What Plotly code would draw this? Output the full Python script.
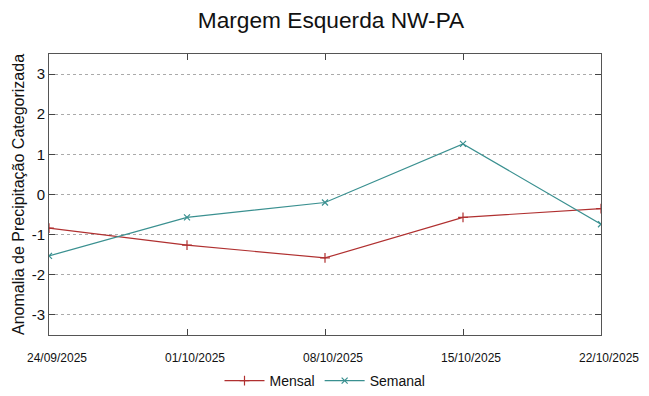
import plotly.graph_objects as go

dates = ["2025-09-24", "2025-10-01", "2025-10-08", "2025-10-15", "2025-10-22"]
tick_labels = ["24/09/2025", "01/10/2025", "08/10/2025", "15/10/2025", "22/10/2025"]
mensal = [-0.84, -1.26, -1.58, -0.57, -0.35]
semanal = [-1.53, -0.57, -0.20, 1.26, -0.74]
y_ticks = [-3, -2, -1, 0, 1, 2, 3]
y_tick_labels = ["-3", "-2", "-1", "0", "1", "2", "3"]

# the page body has an 8px default margin, so the figure is sized to compensate
W, H = 641, 388

fig = go.Figure()
fig.add_trace(go.Scatter(
    x=dates, y=mensal, name="Mensal", mode="lines+markers",
    line=dict(color="#b03030", width=1.2),
    marker=dict(symbol="cross-thin-open", size=7, line=dict(color="#b03030", width=1.2)),
))
fig.add_trace(go.Scatter(
    x=dates, y=semanal, name="Semanal", mode="lines+markers",
    line=dict(color="#3a9090", width=1.2),
    marker=dict(symbol="x-thin-open", size=6, line=dict(color="#3a9090", width=1.2)),
))

fig.update_layout(
    width=W, height=H,
    paper_bgcolor="white", plot_bgcolor="white",
    margin=dict(l=41, r=48, t=46, b=61, autoexpand=False),
    font=dict(family="Liberation Sans, Arial, sans-serif", color="#222"),
    title=dict(text="Margem Esquerda NW-PA", x=(325 - 8 + 6) / W, xanchor="center",
               y=1 - 12 / H, yanchor="middle", yref="container", xref="container",
               font=dict(size=22.7, color="#111")),
    showlegend=True,
    legend=dict(orientation="h", x=(325 - 8 - 41) / (W - 41 - 48), xanchor="center",
                y=1 - 373 / H, yanchor="middle", yref="container",
                font=dict(size=14, color="#111"),
                itemwidth=40),
)
fig.update_xaxes(
    type="date", range=["2025-09-24", "2025-10-22"],
    tickvals=dates, ticktext=tick_labels,
    ticks="inside", ticklen=6, tickcolor="#444",
    showline=True, linecolor="#555", linewidth=1, mirror="ticks",
    showgrid=False, zeroline=False, automargin=False,
    tickfont=dict(size=12, family="Liberation Sans Narrow, Liberation Sans, sans-serif", color="#111"),
    ticklabelstandoff=12, ticklabelshift=8,
)
fig.update_yaxes(
    range=[-3.5, 3.5], tickvals=y_ticks, ticktext=y_tick_labels,
    ticks="inside", ticklen=6, tickcolor="#444",
    showline=True, linecolor="#555", linewidth=1, mirror="ticks",
    showgrid=True, gridcolor="#aaa", griddash="dot", gridwidth=1,
    zeroline=False, automargin=False,
    tickfont=dict(size=15, color="#111"),
    title=dict(text="Anomalia de Precipitação Categorizada", font=dict(size=16, color="#111"), standoff=3),
)

fig.write_html("out.html")
